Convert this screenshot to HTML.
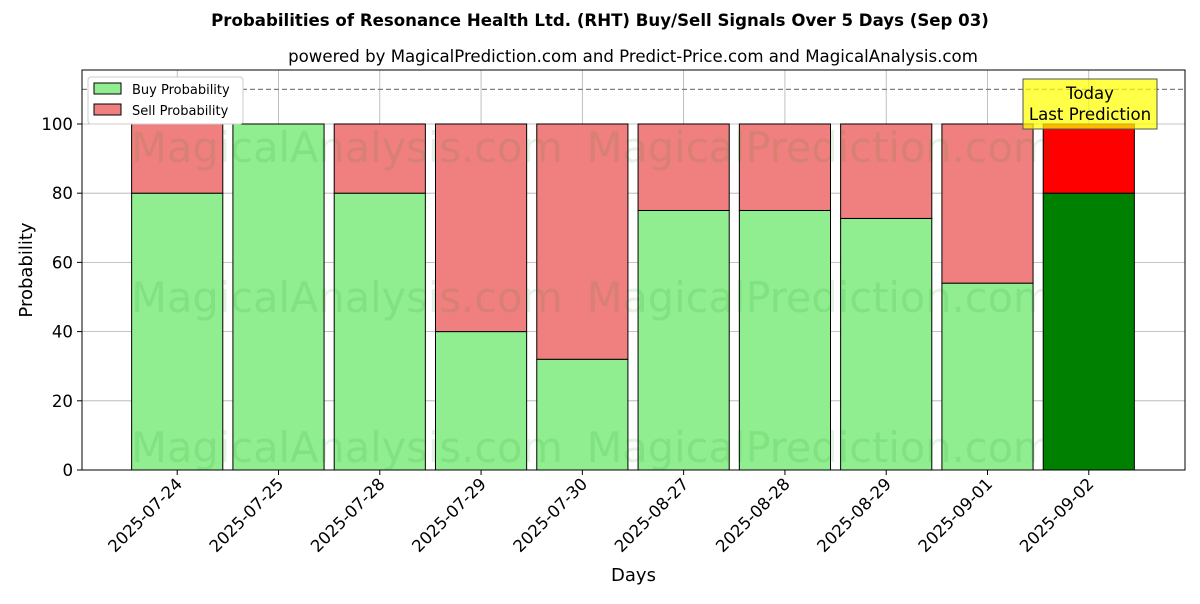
<!DOCTYPE html>
<html><head><meta charset="utf-8"><style>
body{margin:0;background:#fff;font-family:"DejaVu Sans","Liberation Sans",sans-serif}
svg text{font-family:"DejaVu Sans","Liberation Sans",sans-serif}
</style></head><body>
<svg id="c" width="1200" height="600" xmlns="http://www.w3.org/2000/svg">
<text x="600" y="26" text-anchor="middle" font-size="16.6" font-weight="bold">Probabilities of Resonance Health Ltd. (RHT) Buy/Sell Signals Over 5 Days (Sep 03)</text>
<text x="633" y="62" text-anchor="middle" font-size="16.6">powered by MagicalPrediction.com and Predict-Price.com and MagicalAnalysis.com</text>
<g id="plot"></g>
</svg>
<script>
const categories=["2025-07-24","2025-07-25","2025-07-28","2025-07-29","2025-07-30","2025-08-27","2025-08-28","2025-08-29","2025-09-01","2025-09-02"];
const buyValues=[80,100,80,40,32,75,75,72.7,54,80];
const sellValues=[20,0,20,60,68,25,25,27.3,46,20];
const yTicks=[0,20,40,60,80,100];
const L=82,R=1185,T=70,B=470;
const yMin=0,yMax=115.6,xMin=-0.94,xMax=9.95;
const y=v=>B-(v-yMin)/(yMax-yMin)*(B-T);
const x=i=>L+(i-xMin)/(xMax-xMin)*(R-L);
const bw=0.9*(R-L)/(xMax-xMin);
const NS="http://www.w3.org/2000/svg";
const g=document.getElementById('plot');
function mk(t,a){const e=document.createElementNS(NS,t);for(const k in a)e.setAttribute(k,a[k]);g.appendChild(e);return e;}
yTicks.forEach(v=>{const l=mk('line',{x1:L,x2:R,y1:y(v),y2:y(v),stroke:'#b0b0b0','stroke-width':0.8});
});
categories.forEach((c,i)=>{const l=mk('line',{x1:x(i),x2:x(i),y1:T,y2:B,stroke:'#b0b0b0','stroke-width':0.8});
});
categories.forEach((c,i)=>{const last=i===categories.length-1;
const b=mk('rect',{x:x(i)-bw/2,y:y(buyValues[i]),width:bw,height:y(0)-y(buyValues[i]),fill:last?'#008000':'#90ee90',stroke:'#000','stroke-width':1});

const s=mk('rect',{x:x(i)-bw/2,y:y(buyValues[i]+sellValues[i]),width:bw,height:y(buyValues[i])-y(buyValues[i]+sellValues[i]),fill:last?'#ff0000':'#f08080',stroke:'#000','stroke-width':1});

const tk=mk('line',{x1:x(i),x2:x(i),y1:B,y2:B+5,stroke:'#000'});
const t=mk('text',{x:0,y:0,'font-size':16.6,'text-anchor':'end',transform:`translate(${x(i)+6},${B+15}) rotate(-45)`});t.textContent=c;
});
[[347,148,'MagicalAnalysis.com'],[820,148,'MagicalPrediction.com'],[347,298,'MagicalAnalysis.com'],[820,298,'MagicalPrediction.com'],[347,448,'MagicalAnalysis.com'],[820,448,'MagicalPrediction.com']].forEach(w=>{
const t=mk('text',{x:w[0],y:w[1]+14,'text-anchor':'middle','font-size':41.5,fill:'rgba(0,128,0,0.1)'});t.textContent=w[2];
});
const dl=mk('line',{x1:L,x2:R,y1:y(110),y2:y(110),stroke:'#808080','stroke-width':1.2,'stroke-dasharray':'5,3'});

yTicks.forEach(v=>{const tk=mk('line',{x1:L-5,x2:L,y1:y(v),y2:y(v),stroke:'#000'});
const t=mk('text',{x:L-9,y:y(v)+6,'font-size':16.6,'text-anchor':'end'});t.textContent=v;});
const fr=mk('rect',{x:L,y:T,width:R-L,height:B-T,fill:'none',stroke:'#000','stroke-width':1});
const xl=mk('text',{x:(L+R)/2,y:581,'font-size':18,'text-anchor':'middle'});xl.textContent='Days';
const yl=mk('text',{x:0,y:0,'font-size':18,'text-anchor':'middle',transform:`translate(32,${(T+B)/2}) rotate(-90)`});yl.textContent='Probability';
const ab=mk('rect',{x:1023,y:79,width:134,height:50,fill:'#ffff00','fill-opacity':0.72,stroke:'#555','stroke-width':1});
[['Today',99],['Last Prediction',120]].forEach(a=>{const t=mk('text',{x:1090,y:a[1],'font-size':16.6,'text-anchor':'middle'});t.textContent=a[0];});
const lg=mk('rect',{x:88,y:77,width:155,height:47,fill:'#fff',stroke:'#ccc',rx:3});
[['Buy Probability','#90ee90',83],['Sell Probability','#f08080',104]].forEach(e=>{
const r=mk('rect',{x:94,y:e[2],width:27,height:11,fill:e[1],stroke:'#000'});
const t=mk('text',{x:132,y:e[2]+11,'font-size':13});t.textContent=e[0];});
</script>
</body></html>
